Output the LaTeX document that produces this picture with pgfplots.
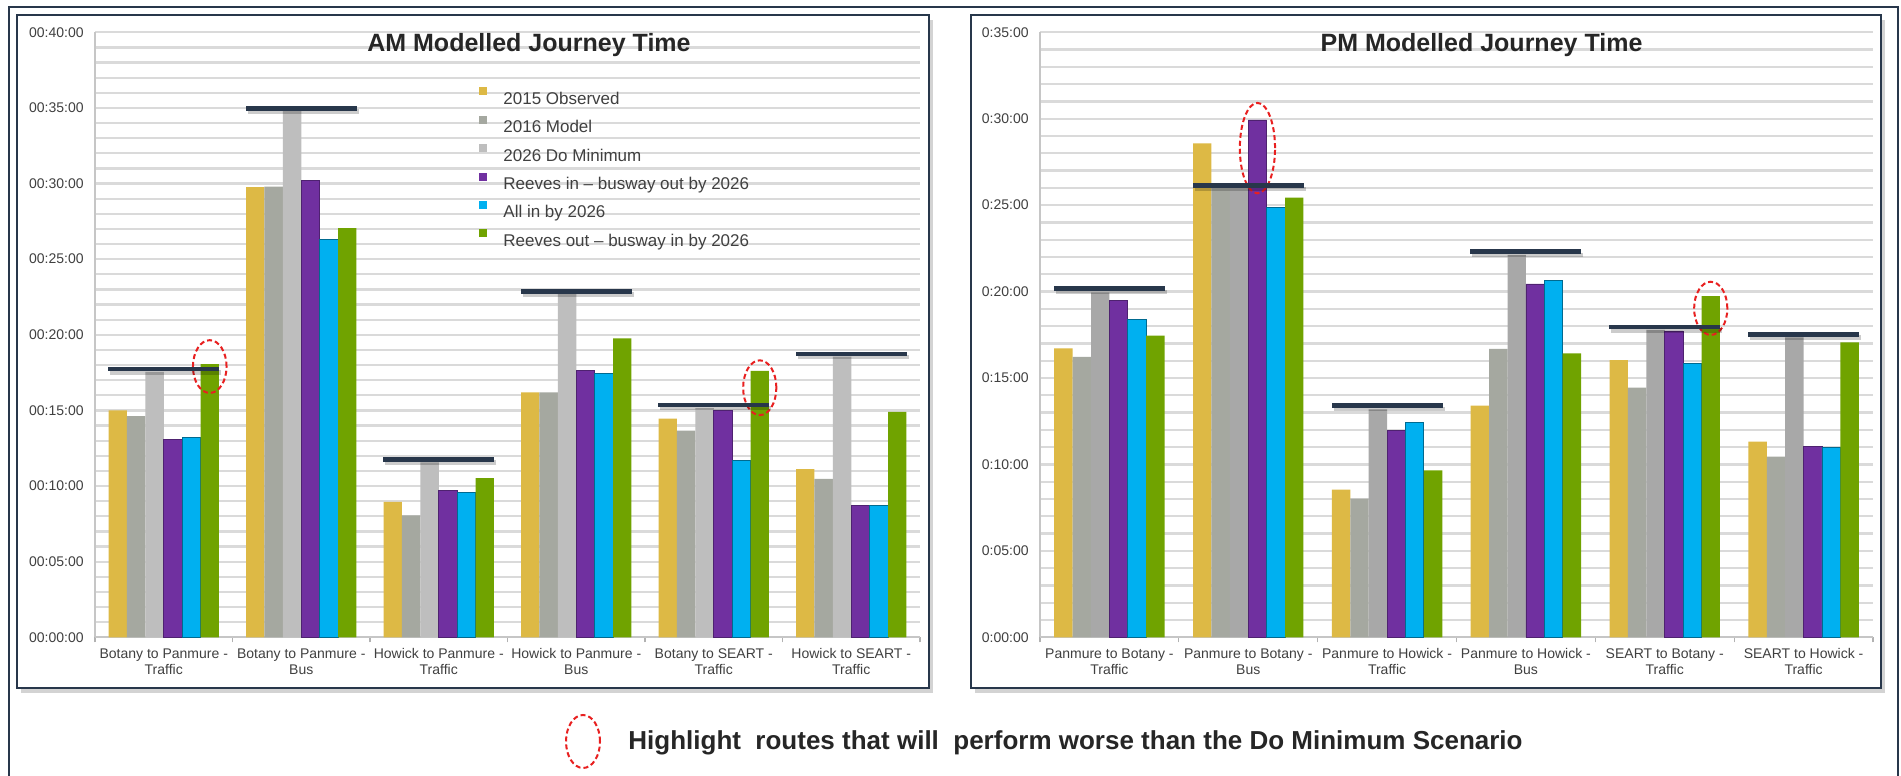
\documentclass[border=0pt]{standalone}
\usepackage{pgfplots}
\usepackage{pgfplotstable}
\pgfplotsset{compat=1.18}
\usetikzlibrary{shadows}
\usepackage{fontspec}
\setmainfont{Liberation Sans}

\definecolor{cObs}{RGB}{221,185,69}
\definecolor{cMod}{RGB}{165,168,160}
\definecolor{cDMam}{RGB}{190,190,190}
\definecolor{cDMpm}{RGB}{168,168,168}
\definecolor{cRin}{RGB}{112,48,160}
\definecolor{cAll}{RGB}{0,176,240}
\definecolor{cRout}{RGB}{112,163,0}
\definecolor{slate}{RGB}{40,55,75}
\definecolor{gridc}{RGB}{218,218,218}
\definecolor{txt}{RGB}{64,64,64}
\definecolor{ttl}{RGB}{38,38,38}
\definecolor{hl}{RGB}{232,32,32}

% AM values (minutes)
\pgfplotstableread{
x obs mod dm rin all rout thr
0 15.00 14.63 17.55 13.08 13.22 18.06 17.73
1 29.76 29.80 34.80 30.18 26.30 27.05 34.98
2 8.96 8.06 11.56 9.71 9.56 10.53 11.76
3 16.19 16.19 22.70 17.67 17.42 19.76 22.87
4 14.45 13.66 15.15 15.00 11.72 17.62 15.37
5 11.12 10.48 18.55 8.74 8.74 14.91 18.74
}\amdata

% PM values (minutes)
\pgfplotstableread{
x obs mod dm rin all rout thr
0 16.72 16.23 19.96 19.50 18.40 17.45 20.17
1 28.58 26.00 26.00 29.93 24.85 25.43 26.13
2 8.54 8.02 13.19 11.99 12.42 9.66 13.40
3 13.40 16.68 22.12 20.44 20.67 16.43 22.31
4 16.04 14.44 17.78 17.72 15.85 19.74 17.95
5 11.32 10.45 17.35 11.05 10.99 17.06 17.53
}\pmdata

\pgfplotsset{
  jt/.style={
    scale only axis, height=302.5pt, anchor=south west,
    ymin=0, clip=false,
    xmin=-0.5, xmax=5.5,
    xtick={-0.5,0.5,...,5.5}, x tick label as interval,
    xticklabel style={align=center, font=\fontsize{7}{8}\selectfont, text=txt, inner sep=0pt, yshift=-3pt},
    xtick style={draw=gray!60, line width=0.6pt},
    major tick length=2.5pt, tick align=outside,
    ytick style={draw=none},
    yticklabel style={font=\fontsize{7}{8}\selectfont, text=txt, inner sep=0pt, xshift=-3pt},
    ymajorgrids, yminorgrids, minor y tick num=4,
    major grid style={gridc, line width=1.1pt},
    minor grid style={gridc, line width=1.1pt},
    axis x line*=bottom, axis y line*=left,
    axis line style={gray!45, line width=0.8pt, -},
  },
  thr/.style={forget plot, only marks, mark=-, mark size=27.75pt,
    mark options={draw=slate, line width=2.3pt}},
  thrs/.style={forget plot, only marks, mark=-, mark size=27.75pt,
    mark options={draw=black, opacity=0.2, line width=2.3pt, xshift=1pt, yshift=-1.6pt}},
}

\begin{document}
\begin{tikzpicture}
\useasboundingbox (0pt,0pt) rectangle (950.5pt,388pt);
% outer frame
\draw[slate, line width=1pt] (4.5pt,-5pt) -- (4.5pt,384.5pt) -- (949pt,384.5pt) -- (949pt,-5pt);
% panels
\draw[slate, line width=1.4pt, fill=white, drop shadow={shadow xshift=2pt, shadow yshift=-2.5pt, opacity=0.35}] (8.5pt,44pt) rectangle (464.5pt,380.5pt);
\draw[slate, line width=1.4pt, fill=white, drop shadow={shadow xshift=2pt, shadow yshift=-2.5pt, opacity=0.35}] (485.5pt,44pt) rectangle (940.5pt,380.5pt);

% ---------------- AM ----------------
\begin{axis}[jt, at={(47.5pt,69.35pt)}, width=412.5pt, ymax=40,
  ytick={0,5,...,40},
  yticklabels={00:00:00,00:05:00,00:10:00,00:15:00,00:20:00,00:25:00,00:30:00,00:35:00,00:40:00},
  xticklabels={{Botany to Panmure -\\Traffic},{Botany to Panmure -\\Bus},{Howick to Panmure -\\Traffic},{Howick to Panmure -\\Bus},{Botany to SEART -\\Traffic},{Howick to SEART -\\Traffic},{}},
  legend style={at={(0.4388,0.917)}, anchor=north west, draw=none, fill=none,
    inner sep=0pt, row sep=0pt, column sep=0pt,
    font=\fontsize{8.5}{10}\selectfont, text=txt,
    cells={fill=white, inner sep=0pt, text height=8.7pt, text depth=3.15pt}},
  legend cell align=left,
  legend image code/.code={\path[draw=none,fill=none] (-11pt,0pt) -- (10pt,0pt); \fill[#1, draw=none] (0pt,0.9pt) rectangle (4pt,4.9pt);},
]
\addplot[ybar, bar width=9.2pt, bar shift=-23pt, fill=cObs, draw=none] table[x=x,y=obs]{\amdata};
\addplot[ybar, bar width=9.2pt, bar shift=-13.8pt, fill=cMod, draw=none] table[x=x,y=mod]{\amdata};
\addplot[ybar, bar width=9.2pt, bar shift=-4.6pt, fill=cDMam, draw=none] table[x=x,y=dm]{\amdata};
\addplot[ybar, bar width=9.2pt, bar shift=4.6pt, fill=cRin, draw=cRin!70!black, line width=0.4pt] table[x=x,y=rin]{\amdata};
\addplot[ybar, bar width=9.2pt, bar shift=13.8pt, fill=cAll, draw=cAll!60!black, line width=0.4pt] table[x=x,y=all]{\amdata};
\addplot[ybar, bar width=9.2pt, bar shift=23pt, fill=cRout, draw=none] table[x=x,y=rout]{\amdata};
\addplot[thrs] table[x=x,y=thr]{\amdata};
\addplot[thr] table[x=x,y=thr]{\amdata};
\legend{2015 Observed,2016 Model,2026 Do Minimum,Reeves in -- busway out by 2026,All in by 2026,Reeves out -- busway in by 2026}
\draw[hl, dash pattern=on 2.5pt off 1.5pt, line width=1pt] ([xshift=23pt]axis cs:0,17.9) ellipse (8.4pt and 13.2pt);
\draw[hl, dash pattern=on 2.5pt off 1.5pt, line width=1pt] ([xshift=23pt]axis cs:4,16.5) ellipse (8.3pt and 13.7pt);
\node[anchor=base, inner sep=0pt, font=\bfseries\fontsize{12.5}{15}\selectfont, text=ttl] at (rel axis cs:0.526,0.968) {AM Modelled Journey Time};
\end{axis}

% ---------------- PM ----------------
\begin{axis}[jt, at={(520pt,69.35pt)}, width=416.5pt, ymax=35,
  ytick={0,5,...,35},
  yticklabels={0:00:00,0:05:00,0:10:00,0:15:00,0:20:00,0:25:00,0:30:00,0:35:00},
  xticklabels={{Panmure to Botany -\\Traffic},{Panmure to Botany -\\Bus},{Panmure to Howick -\\Traffic},{Panmure to Howick -\\Bus},{SEART to Botany -\\Traffic},{SEART to Howick -\\Traffic},{}},
]
\addplot[ybar, bar width=9.2pt, bar shift=-23pt, fill=cObs, draw=none] table[x=x,y=obs]{\pmdata};
\addplot[ybar, bar width=9.2pt, bar shift=-13.8pt, fill=cMod, draw=none] table[x=x,y=mod]{\pmdata};
\addplot[ybar, bar width=9.2pt, bar shift=-4.6pt, fill=cDMpm, draw=none] table[x=x,y=dm]{\pmdata};
\addplot[ybar, bar width=9.2pt, bar shift=4.6pt, fill=cRin, draw=cRin!70!black, line width=0.4pt] table[x=x,y=rin]{\pmdata};
\addplot[ybar, bar width=9.2pt, bar shift=13.8pt, fill=cAll, draw=cAll!60!black, line width=0.4pt] table[x=x,y=all]{\pmdata};
\addplot[ybar, bar width=9.2pt, bar shift=23pt, fill=cRout, draw=none] table[x=x,y=rout]{\pmdata};
\addplot[thrs] table[x=x,y=thr]{\pmdata};
\addplot[thr] table[x=x,y=thr]{\pmdata};
\draw[hl, dash pattern=on 2.5pt off 1.5pt, line width=1pt] ([xshift=4.6pt]axis cs:1,28.3) ellipse (8.8pt and 22.6pt);
\draw[hl, dash pattern=on 2.5pt off 1.5pt, line width=1pt] ([xshift=23pt]axis cs:4,19.03) ellipse (8.3pt and 13.3pt);
\node[anchor=base, inner sep=0pt, font=\bfseries\fontsize{12.5}{15}\selectfont, text=ttl] at (rel axis cs:0.530,0.968) {PM Modelled Journey Time};
\end{axis}

% caption
\draw[hl, dash pattern=on 2.5pt off 1.5pt, line width=1pt] (291.5pt,17.25pt) ellipse (8.5pt and 13.25pt);
\node[anchor=base west, inner sep=0pt, font=\bfseries\fontsize{13}{15}\selectfont, text=ttl] at (314pt,13.35pt) {Highlight\ \ routes that will\ \ perform worse than the Do Minimum Scenario};
\end{tikzpicture}
\end{document}
